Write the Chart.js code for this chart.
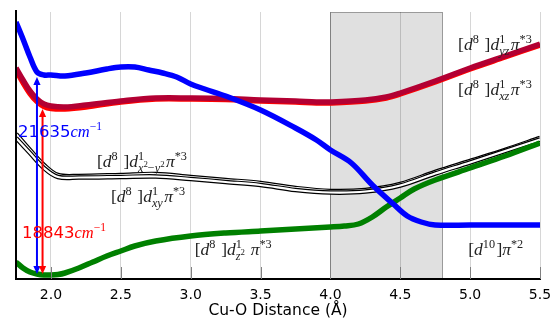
<!DOCTYPE html>
<html><head><meta charset="utf-8">
<script src="https://cdn.jsdelivr.net/npm/chart.js@4.4.1/dist/chart.umd.min.js"></script>
<style>html,body{margin:0;padding:0;background:#fff;}#wrap{width:553px;height:320px;}</style>
</head><body><div id="wrap"><canvas id="c" width="553" height="320"></canvas></div>
<script>
// ---- data ----
const tickValues = [2.0, 2.5, 3.0, 3.5, 4.0, 4.5, 5.0, 5.5];
const spanRange = [4.0, 4.8];

const blueX = [1.75,1.80,1.85,1.90,1.95,2.0,2.1,2.25,2.4,2.5,2.6,2.7,2.8,2.9,3.0,3.1,3.25,3.5,3.75,3.9,4.0,4.15,4.3,4.45,4.55,4.65,4.75,5.0,5.5];
const blueY = [257,240,222,207,204,204,203,206,210,212,212,209,206,202,195,190,183,169,151,139,129,116,94,75,63,57,54,54,54];

const crimsonX = [1.75,1.80,1.85,1.90,1.95,2.0,2.1,2.25,2.5,2.75,3.0,3.25,3.5,3.75,3.9,4.0,4.25,4.4,4.5,4.75,5.0,5.25,5.5];
const crimsonY = [211,199,188,180,175,173,172,174,178,181,181,180.5,179,178,177,177,179,182,186,198,211,223,235];
const redY     = [209,196.5,185.5,177.5,172.5,170.5,170,172,177,180,180,179.5,178,177,176,176,178,181,185,197,210,222,234];

const dxyX = [1.75,1.85,1.95,2.05,2.2,2.5,2.75,3.0,3.25,3.5,3.75,4.0,4.25,4.5,4.75,5.0,5.25,5.5];
const dx2y2Y = [145,129,114,104,103,104,105,102,99,96,91,88,89,95,107,118,129,141];
const dxyY   = [141,126,111,102,101.5,102,102.5,100,97,94,89,86.5,87.5,93.5,105.5,116.5,128,139.5];

const greenX = [1.75,1.8,1.85,1.9,1.95,2.0,2.05,2.1,2.2,2.3,2.4,2.5,2.6,2.75,3.0,3.25,3.5,3.75,4.0,4.1,4.2,4.3,4.4,4.5,4.6,4.75,5.0,5.25,5.5];
const greenY = [17,11,7,5,4,4,4.5,6,11,17,23,28,33,38,43,46,48,50,52,53,55,62,72,81,90,99,111,123,136];

const arrowX    = [1.90, 1.94];
const arrowFrom = [5, 5];
const arrowTo   = [202, 170];
const gapLabels = ['21635', '18843'];

const pts = (xs, ys) => xs.map((x, i) => ({x, y: ys[i]}));

// ---- math text helper ----
const SERIF = '"Liberation Serif", "DejaVu Serif", serif';
function mfont(style, size, fam){ return (style === 'i' ? 'italic ' : '') + size + 'px ' + (fam || SERIF); }
function drawPieces(ctx, x, y, pieces, size){
  let cx = x;
  for (const [t, s] of pieces){
    if (s === '^'){ ctx.font = mfont('r', size*0.72); ctx.fillText(t, cx, y - size*0.38); cx += ctx.measureText(t).width; }
    else { ctx.font = mfont(s, size); ctx.fillText(t, cx, y); cx += ctx.measureText(t).width; }
  }
  return cx - x;
}
function drawRich(ctx, x, y, tokens, size, color){
  ctx.fillStyle = color; ctx.textBaseline = 'alphabetic'; ctx.textAlign = 'left';
  let cx = x;
  for (const tk of tokens){
    if (tk.t !== undefined){
      ctx.font = mfont(tk.s, size, tk.f);
      ctx.fillText(tk.t, cx, y);
      cx += ctx.measureText(tk.t).width + (tk.g || 0)*size;
    } else {
      const ss = size*0.7;
      let w1 = 0, w2 = 0;
      if (tk.sup) w1 = drawPieces(ctx, cx, y - size*0.42, tk.sup, ss);
      if (tk.sub) w2 = drawPieces(ctx, cx, y + size*(tk.sup ? 0.28 : 0.2), tk.sub, ss);
      cx += Math.max(w1, w2) + size*0.08;
    }
  }
}
const D8 = [{t:'[', s:'r'}, {t:'d', s:'i'}, {sup:[['8','r']]}, {t:' ]', s:'r'}, {t:'d', s:'i'}];
const labels = [
  {x:4.914, y:229, tokens:[...D8, {sup:[['1','r']], sub:[['yz','i']]}, {t:'π', s:'i'}, {sup:[['*3','r']]}]},
  {x:4.914, y:184, tokens:[...D8, {sup:[['1','r']], sub:[['xz','i']]}, {t:'π', s:'i'}, {sup:[['*3','r']]}]},
  {x:2.329, y:112, tokens:[...D8, {sup:[['1','r']], sub:[['x','i'],['2','^'],['−','r'],['y','i'],['2','^']]}, {t:'π', s:'i'}, {sup:[['*3','r']]}]},
  {x:2.429, y:77,  tokens:[...D8, {sup:[['1','r']], sub:[['xy','i']]}, {t:'π', s:'i'}, {sup:[['*3','r']]}]},
  {x:3.029, y:24,  tokens:[...D8, {sup:[['1','r']], sub:[['z','i'],['2','^']]}, {t:' π', s:'i'}, {sup:[['*3','r']]}]},
  {x:4.986, y:24,  tokens:[{t:'[', s:'r'}, {t:'d', s:'i'}, {sup:[['10','r']]}, {t:']', s:'r'}, {t:'π', s:'i'}, {sup:[['*2','r']]}]}
];

const annot = {
  id: 'annot',
  beforeDraw(chart){
    const {ctx, chartArea: a, scales: {x}} = chart;
    const x0 = x.getPixelForValue(spanRange[0]), x1 = x.getPixelForValue(spanRange[1]);
    ctx.save();
    ctx.fillStyle = '#e0e0e0';
    ctx.fillRect(x0, a.top, x1 - x0, a.bottom - a.top);
    ctx.strokeStyle = '#9a9a9a'; ctx.lineWidth = 1;
    ctx.strokeRect(Math.round(x0)+0.5, a.top+0.5, Math.round(x1-x0), a.bottom - a.top);
    ctx.restore();
  },
  afterDatasetsDraw(chart){
    const {ctx, chartArea: a, scales: {x, y}} = chart;
    ctx.save();
    // inward tick marks
    ctx.strokeStyle = '#808080'; ctx.lineWidth = 1;
    for (const v of tickValues){
      const px = Math.round(x.getPixelForValue(v)) + 0.5;
      ctx.beginPath(); ctx.moveTo(px, a.bottom); ctx.lineTo(px, a.bottom - 12); ctx.stroke();
    }
    // arrows
    const colors = ['#0000ff', '#ff0000'];
    arrowX.forEach((v, i) => {
      const px = x.getPixelForValue(v), p1 = y.getPixelForValue(arrowFrom[i]), p2 = y.getPixelForValue(arrowTo[i]);
      const hl = 8, hw = 3.6;
      ctx.strokeStyle = colors[i]; ctx.fillStyle = colors[i]; ctx.lineWidth = 2;
      ctx.beginPath(); ctx.moveTo(px, p1 - hl + 1); ctx.lineTo(px, p2 + hl - 1); ctx.stroke();
      ctx.beginPath(); ctx.moveTo(px, p1); ctx.lineTo(px - hw, p1 - hl); ctx.lineTo(px + hw, p1 - hl); ctx.closePath(); ctx.fill();
      ctx.beginPath(); ctx.moveTo(px, p2); ctx.lineTo(px - hw, p2 + hl); ctx.lineTo(px + hw, p2 + hl); ctx.closePath(); ctx.fill();
    });
    // gap labels
    const gapPos = [[1.764, 142], [1.793, 41]];
    gapLabels.forEach((t, i) => {
      const px = x.getPixelForValue(gapPos[i][0]), py = y.getPixelForValue(gapPos[i][1]);
      drawRich(ctx, px, py, [{t:t, s:'r', f:'"DejaVu Sans", sans-serif'}, {t:'cm', s:'i'}, {sup:[['−1','r']]}], 16.5, colors[i]);
    });
    // state labels
    for (const L of labels){
      drawRich(ctx, x.getPixelForValue(L.x), y.getPixelForValue(L.y), L.tokens, 17.5, '#222');
    }
    // left spine
    ctx.strokeStyle = '#000'; ctx.lineWidth = 2;
    ctx.beginPath(); ctx.moveTo(a.left, a.top - 2); ctx.lineTo(a.left, a.bottom + 1); ctx.stroke();
    ctx.restore();
  }
};

function ds(data, color, width, order){
  return {data, borderColor: color, borderWidth: width, pointRadius: 0, fill: false,
          tension: 0.35, order, borderCapStyle: 'butt', borderJoinStyle: 'round'};
}

new Chart(document.getElementById('c'), {
  type: 'line',
  data: {
    datasets: [
      ds(pts(dxyX, dx2y2Y), '#000', 4.6, 10),
      ds(pts(dxyX, dx2y2Y), '#fff', 2.2, 9),
      ds(pts(dxyX, dxyY), '#000', 4.6, 8),
      ds(pts(dxyX, dxyY), '#fff', 2.2, 7),
      ds(pts(greenX, greenY), '#008000', 5.5, 6),
      ds(pts(crimsonX, redY), '#ff0000', 5.5, 5),
      ds(pts(crimsonX, crimsonY), '#b30033', 5.5, 4),
      ds(pts(blueX, blueY), '#0000ff', 5.5, 3)
    ]
  },
  options: {
    responsive: false, animation: false, devicePixelRatio: 1,
    layout: {padding: {left: 16, top: 12, right: 13, bottom: 0}},
    plugins: {legend: {display: false}, tooltip: {enabled: false}},
    scales: {
      x: {
        type: 'linear', min: 1.75, max: 5.5,
        afterBuildTicks: s => { s.ticks = tickValues.map(v => ({value: v})); },
        afterFit: s => { s.height = 41; s.paddingLeft = 0; s.paddingRight = 0; },
        ticks: {callback: v => v.toFixed(1), color: '#000', padding: 8, maxRotation: 0, autoSkip: false,
                font: {family: '"DejaVu Sans", sans-serif', size: 14}},
        grid: {color: 'rgba(0,0,0,0.16)', lineWidth: 1, drawTicks: false},
        border: {color: '#000', width: 2},
        title: {display: true, text: 'Cu-O Distance (Å)', color: '#000', padding: {top: 0, bottom: 0},
                font: {family: '"DejaVu Sans", sans-serif', size: 15.5}}
      },
      y: {display: false, min: 0, max: 267}
    }
  },
  plugins: [annot]
});
</script></body></html>
